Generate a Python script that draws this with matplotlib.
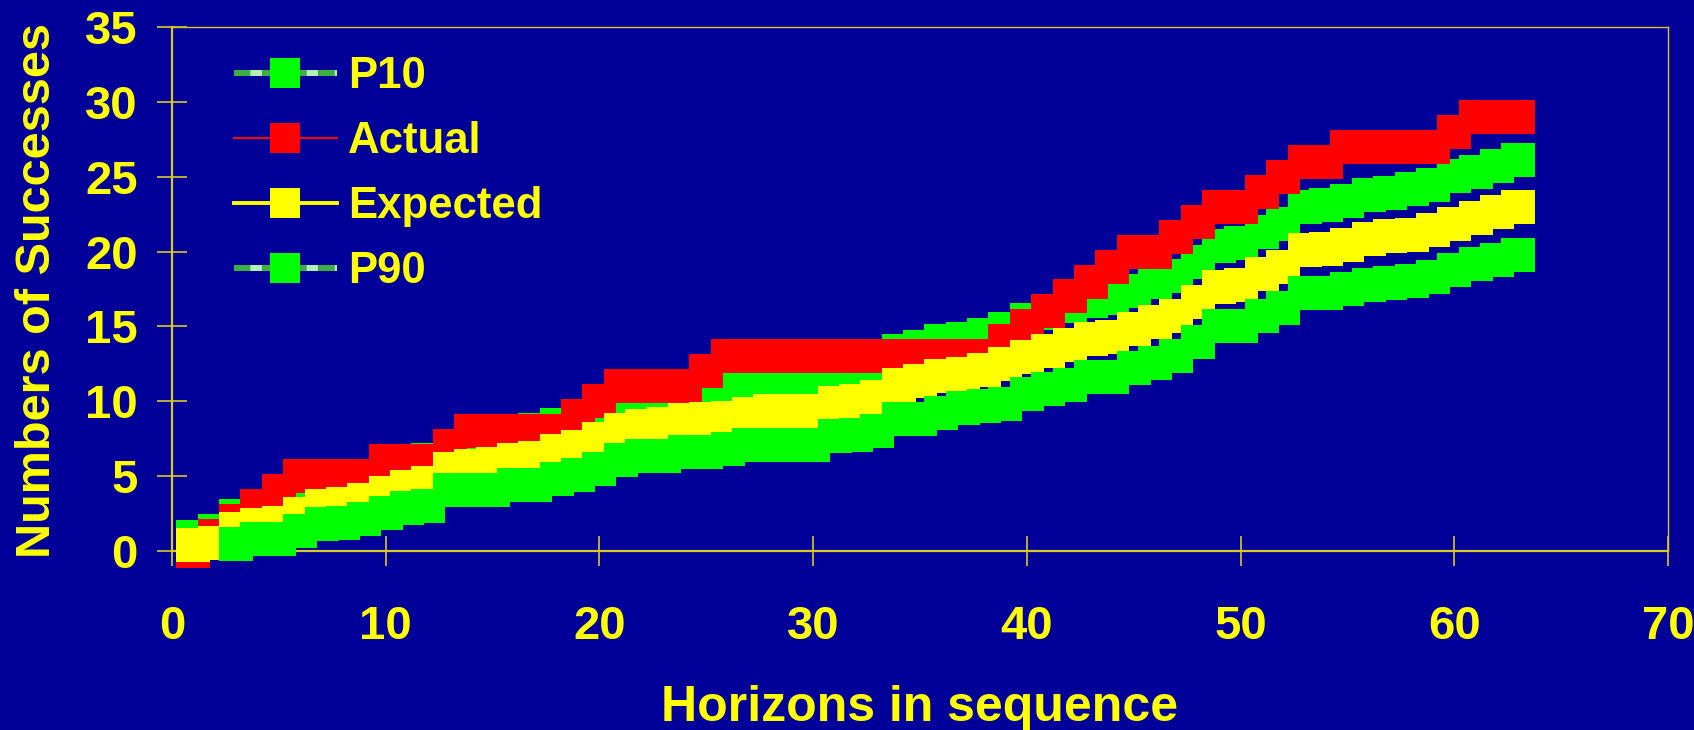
import numpy as np
import matplotlib
matplotlib.use("Agg")
import matplotlib.pyplot as plt

# horizons drilled, in order
horizons = np.arange(1, 64)

# cumulative successes: P10 (high case), actual, expected (mean), P90 (low case)
p10 = [0.93, 1.35, 2.31, 2.71, 3.01, 3.60, 4.24, 4.45, 4.67, 5.15, 5.68, 6.07, 6.92, 7.20, 7.50, 7.79, 8.05, 8.43, 8.78, 9.49,
       10.03, 10.31, 10.61, 10.92, 11.08, 11.10, 11.25, 11.57, 11.57, 11.61, 12.11, 12.22, 12.53, 13.33, 13.60, 14.02, 14.15, 14.44, 14.84, 15.40,
       15.87, 16.38, 16.67, 16.93, 17.38, 17.95, 18.34, 19.32, 20.39, 20.57, 21.28, 21.83, 22.95, 23.08, 23.35, 23.77, 23.90, 24.20, 24.46, 25.02,
       25.31, 25.73, 26.13]
actual = [0, 1, 2, 3, 4, 5, 5, 5, 5, 6, 6, 6, 7, 8, 8, 8, 8, 8, 9, 10,
          11, 11, 11, 11, 12, 13, 13, 13, 13, 13, 13, 13, 13, 13, 13, 13, 13, 13, 14, 15,
          16, 17, 18, 19, 20, 20, 21, 22, 23, 23, 24, 25, 26, 26, 27, 27, 27, 27, 27, 28,
          29, 29, 29]
expected = [0.37, 0.55, 1.48, 1.75, 1.90, 2.46, 3.02, 3.15, 3.42, 3.86, 4.26, 4.53, 5.51, 5.65, 5.80, 6.09, 6.22, 6.65, 6.94, 7.50,
            8.05, 8.32, 8.47, 8.77, 8.85, 8.87, 9.16, 9.32, 9.32, 9.34, 9.88, 10.00, 10.28, 11.10, 11.37, 11.66, 11.79, 12.08, 12.50, 12.93,
            13.33, 13.73, 14.15, 14.28, 14.84, 15.27, 15.67, 16.65, 17.62, 17.75, 18.47, 19.00, 20.12, 20.14, 20.45, 20.85, 21.01, 21.14, 21.41, 21.83,
            22.23, 22.66, 22.95]
p90 = [-0.20, -0.25, 0.50, 0.79, 0.79, 1.32, 1.80, 1.85, 2.17, 2.57, 2.84, 2.99, 4.10, 4.10, 4.10, 4.39, 4.39, 4.80, 5.10, 5.51,
       6.07, 6.33, 6.33, 6.62, 6.62, 6.78, 7.07, 7.07, 7.07, 7.07, 7.65, 7.78, 8.03, 8.85, 8.85, 9.20, 9.53, 9.67, 9.80, 10.52,
       10.79, 11.08, 11.63, 11.63, 12.19, 12.59, 13.01, 13.99, 15.02, 15.02, 15.68, 16.24, 17.24, 17.24, 17.53, 17.80, 17.91, 18.05, 18.31, 18.76,
       19.16, 19.47, 19.74]

# negative points fall outside the value axis and are not drawn
p90_shown = np.where(np.array(p90) < 0, np.nan, p90)

BG = '#000099'
TXT = '#ffff00'
AXC = '#d8c828'
FONT = 'Liberation Sans'

plt.rcParams['font.family'] = [FONT, 'DejaVu Sans']
plt.rcParams['font.weight'] = 'bold'

fig = plt.figure(figsize=(16.94, 7.30), dpi=100, facecolor=BG)
ax = fig.add_axes([172 / 1694, 1 - 551 / 730, 1496 / 1694, 524 / 730])
ax.set_facecolor(BG)

ms = 24.0
ax.plot(horizons, p10, color='#3cb043', gapcolor='#b4f0b4', linestyle=(0, (2.7, 2.0)), lw=4.3,
        marker='s', ms=ms, mfc='#00ff00', mec='#00ff00', mew=0, clip_on=False, label='P10', zorder=2)
ax.plot(horizons, actual, color='#ff0000', lw=1.5,
        marker='s', ms=ms, mfc='#ff0000', mec='#ff0000', mew=0, clip_on=False, label='Actual', zorder=3)
ax.plot(horizons, expected, color='#ffff00', lw=2.8,
        marker='s', ms=ms, mfc='#ffff00', mec='#ffff00', mew=0, clip_on=False, label='Expected', zorder=4)
ax.plot(horizons, p90_shown, color='#3cb043', gapcolor='#b4f0b4', linestyle=(0, (2.7, 2.0)), lw=4.3,
        marker='s', ms=ms, mfc='#00ff00', mec='#00ff00', mew=0, clip_on=False, label='P90', zorder=5)

ax.set_xlim(0, 70)
ax.set_ylim(0, 35)
ax.set_xticks(np.arange(0, 71, 10))
ax.set_yticks(np.arange(0, 36, 5))

for side in ['left', 'bottom']:
    ax.spines[side].set_color(AXC)
    ax.spines[side].set_linewidth(1.6)
for side in ['top', 'right']:
    ax.spines[side].set_color(AXC)
    ax.spines[side].set_linewidth(1.0)

ax.tick_params(direction='inout', length=21.6, width=1.2, color=AXC,
               labelcolor=TXT, labelsize=34)
ax.tick_params(axis='x', pad=28)
ax.tick_params(axis='y', pad=14)
for lab in ax.get_xticklabels() + ax.get_yticklabels():
    lab.set_fontweight('bold')

fig.text(920 / 1694, 1 - 708 / 730, 'Horizons in sequence', color=TXT, fontsize=36,
         fontweight='bold', ha='center', va='center')
fig.text(38 / 1694, 1 - 290 / 730, 'Numbers of Successes', color=TXT, fontsize=35,
         fontweight='bold', ha='center', va='center', rotation=90)

leg = ax.legend(loc='upper left', bbox_to_anchor=(0.0414, 0.945), frameon=False,
                prop={'family': FONT, 'weight': 'bold', 'size': 31.5},
                handlelength=2.35, handletextpad=0.25, labelspacing=0.55,
                borderaxespad=0, borderpad=0, markerscale=0.9, numpoints=1)
for t in leg.get_texts():
    t.set_color(TXT)

fig.savefig('out.png', dpi=100, facecolor=BG)
